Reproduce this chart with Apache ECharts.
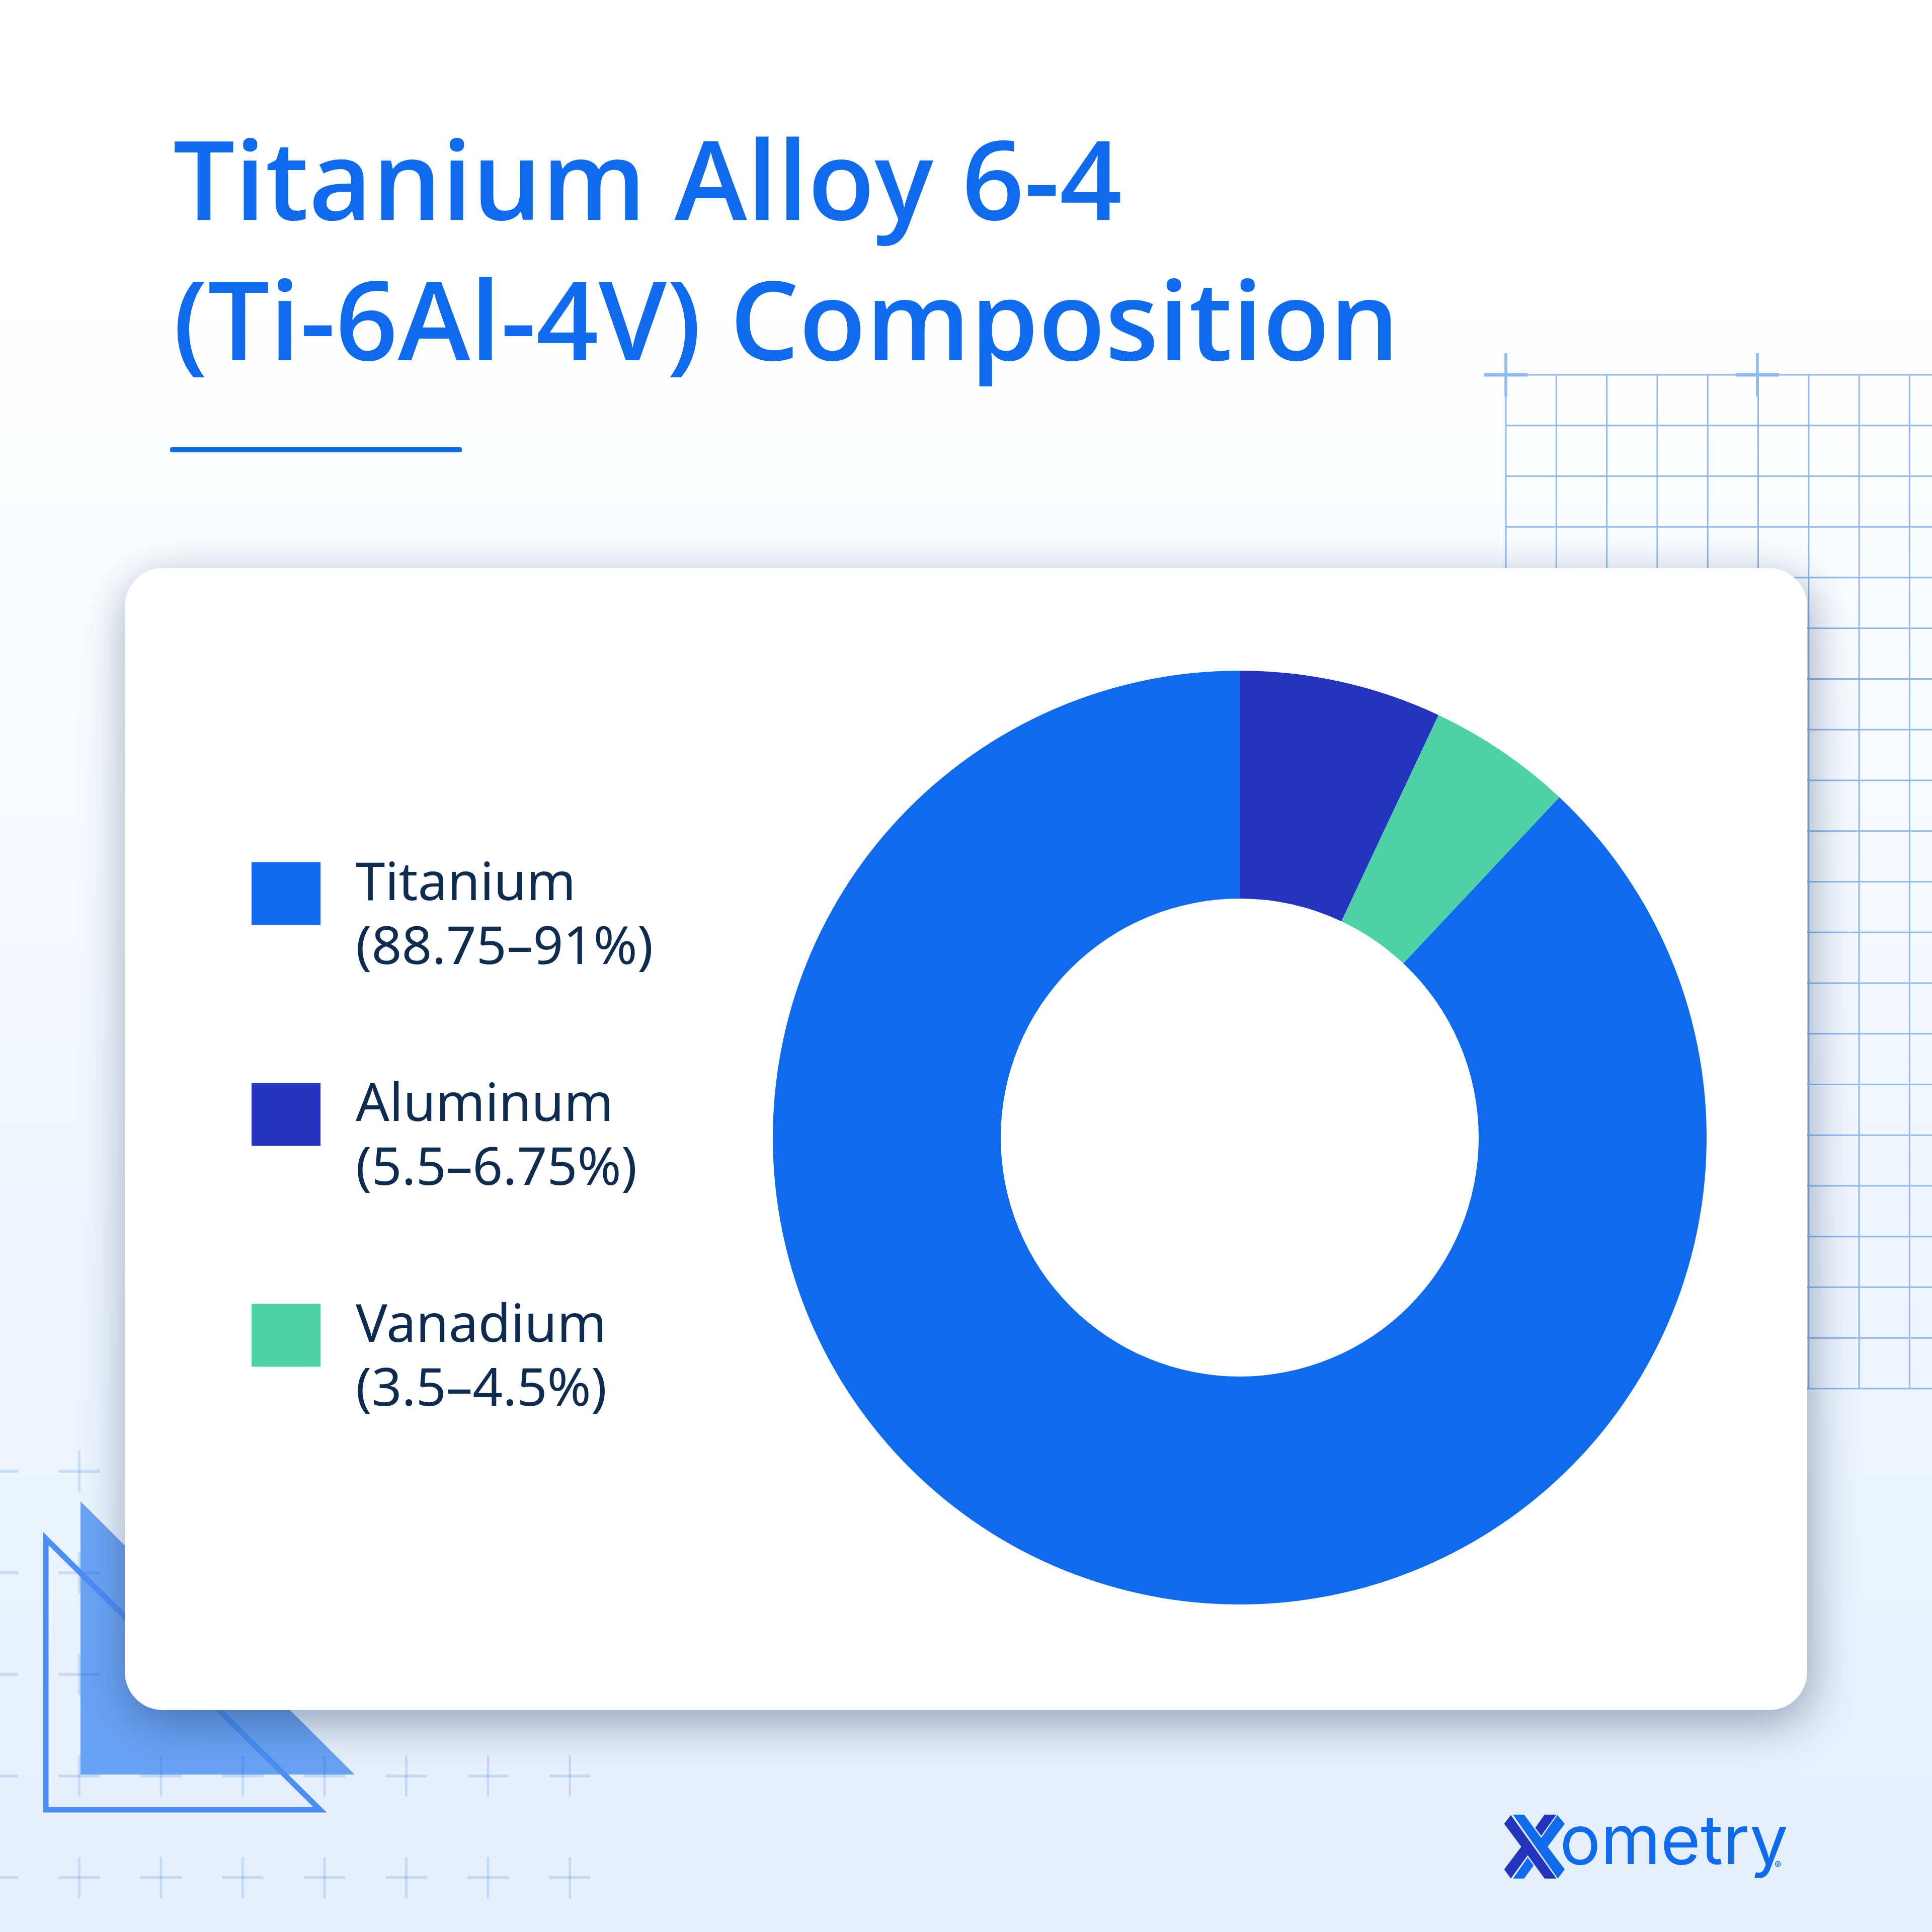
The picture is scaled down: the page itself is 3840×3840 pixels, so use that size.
<!DOCTYPE html>
<html>
<head>
<meta charset="utf-8">
<title>Titanium Alloy 6-4</title>
<script src="https://cdn.jsdelivr.net/npm/echarts@6/dist/echarts.min.js"></script>
<style>
	html, body { margin: 0; padding: 0; background: #fff; }
	#main { width: 3840px; height: 3840px; }
</style>
</head>
<body>
<div id="main"></div>
<script>
var titleLines = ['Titanium Alloy 6-4', '(Ti-6Al-4V) Composition'];
var categories = ['Titanium', 'Aluminum', 'Vanadium'];
var ranges = ['(88.75–91%)', '(5.5–6.75%)', '(3.5–4.5%)'];
var values = [88, 7, 5];

var sliceColors = ['#0E6BEE', '#2534BE', '#4ED1A5'];
var blue = '#0E6BEE';
var darkBlue = '#2534BE';

var deco = [];

// plus pattern, bottom left
function addPlus(x, y, arm, w, color) {
	deco.push({ type: 'rect', z: 0, shape: { x: x - arm, y: y - w / 2, width: arm * 2, height: w }, style: { fill: color } });
	deco.push({ type: 'rect', z: 0, shape: { x: x - w * 0.4, y: y - arm, width: w * 0.8, height: arm * 2 }, style: { fill: color } });
}
for (var r = 0; r < 5; r++) {
	for (var c = 0; c < 8; c++) {
		addPlus(-5 + c * 162.5, 2924 + r * 202, 41, 6, 'rgba(15,105,240,0.17)');
	}
}

// triangles
deco.push({ type: 'polygon', z: 0, shape: { points: [[160, 2984], [160, 3527], [705, 3527]] }, style: { fill: 'rgba(15,105,236,0.58)' } });
deco.push({ type: 'polygon', z: 0, shape: { points: [[91, 3058], [91, 3597], [636, 3597]] }, style: { fill: 'none', stroke: '#4A8FF5', lineWidth: 11 } });

// graph paper, top right
var gridColor = '#90B9F6';
for (var i = 0; i <= 20; i++) {
	var gy = 745 + i * 100.75;
	deco.push({ type: 'line', z: 0, shape: { x1: 2993, y1: gy, x2: 3840, y2: gy }, style: { stroke: gridColor, lineWidth: 3 } });
}
for (var j = 0; j <= 8; j++) {
	var gx = 2993 + j * 100.3;
	deco.push({ type: 'line', z: 0, shape: { x1: gx, y1: 745, x2: gx, y2: 2760 }, style: { stroke: gridColor, lineWidth: 3 } });
}
addPlus(2993, 745, 43, 7, gridColor);
addPlus(3493, 745, 43, 7, gridColor);

// rule under the title
deco.push({ type: 'rect', z: 0, shape: { x: 338, y: 889, width: 580, height: 10, r: 4 }, style: { fill: blue } });

// white card
deco.push({
	type: 'rect', z: 1,
	shape: { x: 248, y: 1129, width: 3344, height: 2270, r: 76 },
	style: { fill: '#fff', shadowBlur: 90, shadowOffsetX: 6, shadowOffsetY: 24, shadowColor: 'rgba(20,50,90,0.42)' }
});

// logo, points
function logoPts(list) {
	return list.map(function (p) { return [2900 + p[0] / 2.119, 3500 + p[1] / 2.96]; });
}
deco.push({ type: 'polygon', z: 1, shape: { points: logoPts([[218, 318], [190, 370], [262, 505], [190, 638], [218, 692], [289, 555], [360, 692], [410, 692]]) }, style: { fill: darkBlue } });
deco.push({ type: 'polygon', z: 1, shape: { points: logoPts([[360, 316], [410, 316], [346, 440], [321, 393]]) }, style: { fill: darkBlue } });
deco.push({ type: 'polygon', z: 1, shape: { points: logoPts([[227, 316], [274, 316], [346, 453], [414, 318], [445, 370], [373, 505], [445, 638], [416, 692]]) }, style: { fill: blue } });
deco.push({ type: 'polygon', z: 1, shape: { points: logoPts([[289, 568], [314, 615], [274, 692], [227, 692]]) }, style: { fill: blue } });
deco.push({ type: 'text', z: 1, x: 3100, y: 3732, style: { text: 'ometry', fill: blue, font: '400 136px Inter', textVerticalAlign: 'bottom' } });
deco.push({ type: 'text', z: 1, x: 3527, y: 3698, style: { text: '®', fill: blue, font: '400 20px Inter' } });

var chart = echarts.init(document.getElementById('main'));
var legendLine = {
	color: '#0D2C4F',
	fontFamily: 'Noto Sans',
	fontSize: 105,
	lineHeight: 127,
	padding: [0, 0, 0, 65]
};
var option = {
	backgroundColor: {
		type: 'linear', x: 0, y: 0, x2: 0, y2: 1,
		colorStops: [
			{ offset: 0, color: '#FFFFFF' },
			{ offset: 0.15, color: '#FFFFFF' },
			{ offset: 0.95, color: '#E6F0FC' },
			{ offset: 1, color: '#E6F0FC' }
		]
	},
	animation: false,
	title: {
		text: titleLines.join('\n'),
		left: 344,
		top: 236,
		padding: 0,
		textStyle: {
			color: blue,
			fontFamily: 'Open Sans',
			fontWeight: 600,
			fontSize: 217.5,
			lineHeight: 279
		}
	},
	legend: {
		orient: 'vertical',
		left: 495,
		top: 1639,
		icon: 'rect',
		itemWidth: 137,
		itemHeight: 125,
		itemGap: 144,
		selectedMode: false,
		// empty first line pushes the two text lines down against the swatch
		formatter: function (name) {
			return '{s| }\n{a|' + name + '}\n{a|' + ranges[categories.indexOf(name)] + '}';
		},
		textStyle: {
			rich: {
				s: { fontSize: 10, lineHeight: 94 },
				a: legendLine
			}
		},
		data: categories
	},
	graphic: { elements: deco },
	series: [
		{
			type: 'pie',
			center: [2464, 2261],
			radius: [475, 928],
			startAngle: 46.8,
			silent: true,
			label: { show: false },
			labelLine: { show: false },
			data: categories.map(function (name, i) {
				return { name: name, value: values[i], itemStyle: { color: sliceColors[i] } };
			})
		}
	]
};
chart.setOption(option);
</script>
</body>
</html>
